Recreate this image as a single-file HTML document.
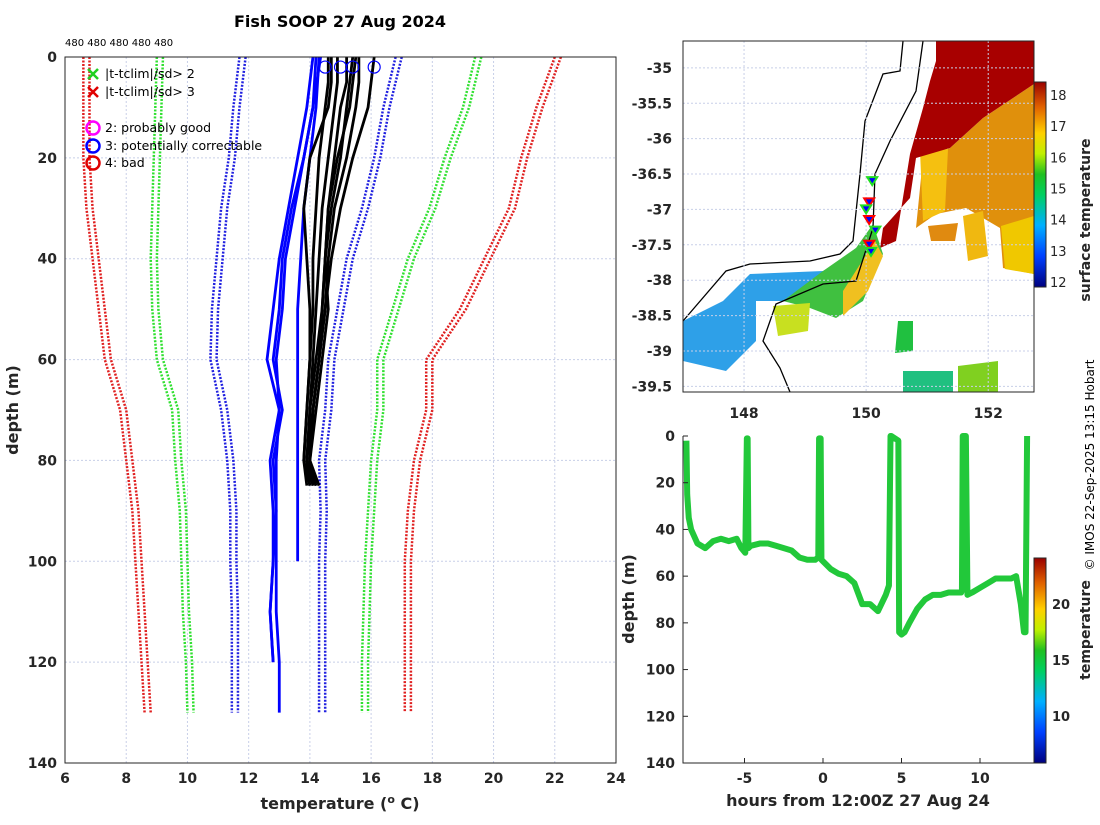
<!DOCTYPE html>
<html><head><meta charset="utf-8"><style>
body{margin:0;background:#fff;font-family:"Liberation Sans","DejaVu Sans",sans-serif}
svg text{font-family:"DejaVu Sans","Liberation Sans",sans-serif}
.tk{font-size:14px;font-weight:bold;fill:#262626}
.lg{font-size:12.5px;fill:#000}
</style></head><body>
<svg id="s" width="1100" height="820" viewBox="0 0 1100 820" xmlns="http://www.w3.org/2000/svg">
<defs>
<linearGradient id="jet1" x1="0" y1="1" x2="0" y2="0">
<stop offset="0" stop-color="#00007f"/><stop offset="0.15" stop-color="#0040ff"/><stop offset="0.3" stop-color="#00b0ff"/><stop offset="0.45" stop-color="#00d060"/><stop offset="0.55" stop-color="#20c020"/><stop offset="0.65" stop-color="#c0f000"/><stop offset="0.75" stop-color="#ffd000"/><stop offset="0.88" stop-color="#e06000"/><stop offset="1" stop-color="#9a0000"/>
</linearGradient>
</defs>
<g id="left"></g>
<g id="map"></g>
<g id="br"></g>
<text x="340" y="27" text-anchor="middle" style="font-size:16px;font-weight:bold">Fish SOOP 27 Aug 2024</text>
<text x="340" y="809" text-anchor="middle" class="tk" style="font-size:16px">temperature (<tspan dy="-6" font-size="11">o</tspan><tspan dy="6"> C)</tspan></text>
<text transform="translate(18,410) rotate(-90)" text-anchor="middle" class="tk" style="font-size:16px">depth (m)</text>
<text transform="translate(1094,465) rotate(-90)" text-anchor="middle" style="font-size:12px">© IMOS 22-Sep-2025 13:15 Hobart</text>
<text x="858" y="806" text-anchor="middle" class="tk" style="font-size:16px">hours from 12:00Z 27 Aug 24</text>
<text transform="translate(634,599) rotate(-90)" text-anchor="middle" class="tk" style="font-size:16px">depth (m)</text>
<text transform="translate(1090,220) rotate(-90)" text-anchor="middle" class="tk">surface temperature</text>
<text transform="translate(1090,630) rotate(-90)" text-anchor="middle" class="tk">temperature</text>
</svg>
<script>
const NS="http://www.w3.org/2000/svg";
function mk(p,t,a){const e=document.createElementNS(NS,t);for(const k in a)e.setAttribute(k,a[k]);p.appendChild(e);return e;}
// ---- left panel data
const depthGrid=[0,10,20,30,40,50,60,70,80,90,100,110,120,130];
const climRedL1=[6.6,6.6,6.6,6.7,6.9,7.1,7.3,7.8,8.0,8.2,8.3,8.4,8.5,8.6];
const climRedL2=[6.8,6.8,6.8,6.9,7.1,7.3,7.5,8.0,8.2,8.4,8.5,8.6,8.7,8.8];
const climGrnL1=[9.0,8.95,8.9,8.85,8.8,8.85,9.0,9.5,9.6,9.75,9.8,9.85,9.95,10.0];
const climGrnL2=[9.2,9.15,9.1,9.05,9.0,9.05,9.2,9.7,9.8,9.95,10.0,10.05,10.15,10.2];
const climBluL1=[11.7,11.5,11.35,11.1,10.95,10.8,10.75,11.1,11.3,11.4,11.4,11.45,11.45,11.45];
const climBluL2=[11.9,11.7,11.55,11.3,11.15,11.0,10.95,11.3,11.5,11.6,11.6,11.65,11.65,11.65];
const climBluR1=[16.8,16.4,16.1,15.7,15.2,14.9,14.6,14.5,14.3,14.35,14.3,14.3,14.3,14.3];
const climBluR2=[17.0,16.6,16.3,15.9,15.4,15.1,14.8,14.7,14.5,14.55,14.5,14.5,14.5,14.5];
const climGrnR1=[19.4,19.0,18.4,17.9,17.2,16.7,16.2,16.2,16.0,15.9,15.8,15.75,15.7,15.7];
const climGrnR2=[19.6,19.2,18.6,18.1,17.4,16.9,16.4,16.4,16.2,16.1,16.0,15.95,15.9,15.9];
const climRedR1=[22.0,21.4,20.9,20.5,19.7,18.9,17.8,17.8,17.4,17.2,17.1,17.1,17.1,17.1];
const climRedR2=[22.2,21.6,21.1,20.7,19.9,19.1,18.0,18.0,17.6,17.4,17.3,17.3,17.3,17.3];
const blkDepth=[0,5,10,20,30,40,50,60,70,80,85];
const blk=[
[14.6,14.6,14.5,14.3,14.2,14.1,14.1,14.0,13.9,13.8,13.9],
[14.9,14.9,14.8,14.6,14.4,14.3,14.2,14.1,14.0,13.9,14.0],
[15.2,15.2,15.0,14.8,14.6,14.5,14.4,14.2,14.0,13.9,14.1],
[15.4,15.3,15.2,15.0,14.7,14.5,14.4,14.3,14.1,14.0,14.2],
[15.6,15.6,15.5,15.2,14.8,14.6,14.5,14.3,14.1,14.0,14.3],
[16.1,16.0,15.9,15.4,15.0,14.7,14.5,14.3,14.1,13.9,14.2],
[14.7,14.7,14.6,14.0,13.8,13.9,14.0,14.0,13.9,13.8,14.0],
[15.5,15.4,15.3,14.9,14.6,14.5,14.6,14.4,14.2,14.0,14.1]];
const bluDepth=[0,10,20,30,40,50,60,70,80,90,100,110,120,130];
const blu=[
[14.1,13.9,13.6,13.3,13.0,12.8,12.6,13.0,12.7,12.8,12.8,12.7,12.8],
[14.2,14.1,13.8,13.5,13.2,13.1,12.9,13.0,12.9,12.9,12.9,12.9,13.0,13.0],
[14.3,14.2,14.0,13.8,13.7,13.6,13.6,13.6,13.6,13.6,13.6],
[14.35,14.1,13.8,13.4,13.1,13.0,12.8,13.1,12.8,12.9,12.8,12.7,12.8]];
const flagCircleTemps=[14.5,15.0,15.4,16.1];
const xTicks=[6,8,10,12,14,16,18,20,22,24];
const yTicks=[0,20,40,60,80,100,120,140];
const L={x0:65,x1:616,y0:57,y1:763,t0:6,t1:24,d0:0,d1:140};
const sx=t=>L.x0+(t-L.t0)/(L.t1-L.t0)*(L.x1-L.x0);
const sy=d=>L.y0+(d-L.d0)/(L.d1-L.d0)*(L.y1-L.y0);
const g=document.getElementById('left');
xTicks.forEach(t=>{let l=mk(g,'line',{x1:sx(t),x2:sx(t),y1:L.y0,y2:L.y1,stroke:'#c8cfe8','stroke-dasharray':'2,2'});


let tx=mk(g,'text',{x:sx(t),y:L.y1+20,'text-anchor':'middle',class:'tk'});tx.textContent=t;

});
yTicks.forEach(d=>{let l=mk(g,'line',{x1:L.x0,x2:L.x1,y1:sy(d),y2:sy(d),stroke:'#c8cfe8','stroke-dasharray':'2,2'});


let tx=mk(g,'text',{x:L.x0-8,y:sy(d)+5,'text-anchor':'end',class:'tk'});tx.textContent=d;

});
function line(arr,deps,col,w,dash,name){const pts=arr.map((t,i)=>sx(t)+','+sy(deps[i])).join(' ');
const p=mk(g,'polyline',{points:pts,fill:'none',stroke:col,'stroke-width':w,'stroke-linejoin':'round'});if(dash)p.setAttribute('stroke-dasharray',dash);

}
[[climRedL1,'#e02020'],[climRedL2,'#e02020'],[climGrnL1,'#30e030'],[climGrnL2,'#30e030'],[climBluL1,'#2020e0'],[climBluL2,'#2020e0'],[climBluR1,'#2020e0'],[climBluR2,'#2020e0'],[climGrnR1,'#30e030'],[climGrnR2,'#30e030'],[climRedR1,'#e02020'],[climRedR2,'#e02020']].forEach(c=>line(c[0],depthGrid,c[1],2.5,'2,1.5','climatology-line'));
blu.forEach(a=>line(a,bluDepth,'#0000ff',2.8,null,'flagged-profile'));
blk.forEach(a=>line(a,blkDepth,'#000',2.8,null,'good-profile'));
flagCircleTemps.forEach(t=>{const c=mk(g,'circle',{cx:sx(t),cy:sy(2),r:6,fill:'none',stroke:'#0000ff','stroke-width':1.2});

});
mk(g,'rect',{x:L.x0,y:L.y0,width:L.x1-L.x0,height:L.y1-L.y0,fill:'none',stroke:'#262626'});
const cnt=mk(g,'text',{x:65,y:46,style:'font-size:10px'});cnt.textContent='480 480 480 480 480';


// legend
const leg=[['x','#20d020','|t-tclim|/sd> 2',74],['x','#e00000','|t-tclim|/sd> 3',92],['o','#ff00ff','2: probably good',128],['o','#0000ff','3: potentially correctable',146],['o','#e00000','4: bad',163]];
leg.forEach(e=>{const gg=mk(g,'g',{});
if(e[0]=='x'){mk(gg,'path',{d:`M88 ${e[3]-5}l10 10M98 ${e[3]-5}l-10 10`,stroke:e[1],'stroke-width':2.5});}
else mk(gg,'circle',{cx:93,cy:e[3],r:6.5,fill:'none',stroke:e[1],'stroke-width':2.5});
const t=mk(gg,'text',{x:105,y:e[3]+4,class:'lg'});t.textContent=e[2];});
// ---- map
const M={x0:683,x1:1034,y0:41,y1:392,lon0:147.0,lon1:152.75,lat0:-34.62,lat1:-39.58};
const mx=l=>M.x0+(l-M.lon0)/(M.lon1-M.lon0)*(M.x1-M.x0);
const my=l=>M.y0+(l-M.lat0)/(M.lat1-M.lat0)*(M.y1-M.y0);
const mg=document.getElementById('map');
mk(mg,'rect',{x:M.x0,y:M.y0,width:351,height:351,fill:'#fff'});
function poly(pts,col,name){const p=mk(mg,'polygon',{points:pts.map(q=>(M.x0+q[0])+','+(M.y0+q[1])).join(' '),fill:col});}
poly([[300,77],[351,43],[351,233],[320,227],[317,187],[283,167],[253,173],[233,187],[240,117],[267,107]],'#e0900c','sst-warm-region');
poly([[237,110],[265,108],[262,170],[240,180]],'#f5c010','sst-yellow-patch');
poly([[318,185],[351,175],[351,233],[322,228]],'#f0c800','sst-yellow-patch');
poly([[280,175],[300,170],[305,215],[285,220]],'#f0b810','sst-yellow-patch');
poly([[245,185],[275,182],[272,200],[248,200]],'#e08a10','sst-orange-patch');
poly([[253,0],[351,0],[351,43],[300,77],[267,107],[233,117],[227,157],[200,187],[197,207],[213,200],[227,113],[240,67],[247,40],[253,20]],'#a80000','sst-hot-region');
poly([[0,280],[40,260],[67,233],[140,230],[157,220],[173,207],[180,213],[133,260],[73,260],[73,300],[43,330],[0,320]],'#2ea0e8','sst-cool-region');
poly([[140,230],[173,207],[190,183],[200,213],[180,260],[153,277],[127,267],[100,260]],'#40c040','sst-shelf-band');
poly([[160,250],[192,200],[200,215],[185,250],[160,275]],'#f0c020','sst-shelf-yellow');
poly([[90,265],[127,262],[125,290],[95,295]],'#c8e020','sst-green-patch');
poly([[215,280],[230,280],[230,310],[212,312]],'#20c040','sst-green-patch');
poly([[220,330],[270,330],[270,351],[220,351]],'#20c080','sst-green-patch');
poly([[275,325],[315,320],[315,351],[275,351]],'#80d020','sst-green-patch');
mk(mg,'polyline',{points:[[0,280],[43,230],[67,223],[127,220],[157,213],[170,200],[177,133],[182,80],[200,33],[217,30],[220,0]].map(q=>(M.x0+q[0])+','+(M.y0+q[1])).join(' '),fill:'none',stroke:'#000','stroke-width':1.3,});
mk(mg,'polyline',{points:[[240,0],[233,50],[207,100],[192,133],[190,187],[173,240],[140,243],[93,263],[80,300],[97,327],[107,351]].map(q=>(M.x0+q[0])+','+(M.y0+q[1])).join(' '),fill:'none',stroke:'#000','stroke-width':1.3,});
const lonTicks=[148,150,152];const latTicks=[-35,-35.5,-36,-36.5,-37,-37.5,-38,-38.5,-39,-39.5];
lonTicks.forEach(l=>{mk(mg,'line',{x1:mx(l),x2:mx(l),y1:M.y0,y2:M.y1,stroke:'#c8cfe8','stroke-dasharray':'2,2'});
const t=mk(mg,'text',{x:mx(l),y:418,'text-anchor':'middle',class:'tk'});t.textContent=l;

});
latTicks.forEach(l=>{mk(mg,'line',{x1:M.x0,x2:M.x1,y1:my(l),y2:my(l),stroke:'#c8cfe8','stroke-dasharray':'2,2'});
const t=mk(mg,'text',{x:672,y:my(l)+5,'text-anchor':'end',class:'tk'});t.textContent=l;

});
const shipLon=[150.1,150.05,150.0,150.05,150.15,150.05,150.08];
const shipLat=[-36.6,-36.9,-37.0,-37.15,-37.3,-37.5,-37.6];
shipLon.forEach((l,i)=>{const p=mk(mg,'path',{d:`M${mx(l)-5} ${my(shipLat[i])-4}h10l-5 8z`,fill:'#0000ff',stroke:i%2?'#ff0000':'#20e020','stroke-width':2});

});
mk(mg,'rect',{x:M.x0,y:M.y0,width:351,height:351,fill:'none',stroke:'#262626'});
const cb1=mk(mg,'rect',{x:1034,y:82,width:12,height:205,fill:'url(#jet1)',stroke:'#262626'});


const cb1Ticks=[12,13,14,15,16,17,18];
cb1Ticks.forEach(v=>{const y=282-(v-12)*(282-95)/6;
const t=mk(mg,'text',{x:1050,y:y+5,class:'tk',style:'font-size:13px;font-weight:normal'});t.textContent=v;

});
// ---- bottom right
const hours=[-8.7,-8.65,-8.6,-8.55,-8.4,-8.0,-7.5,-7.0,-6.5,-6.0,-5.5,-5.2,-4.95,-4.85,-4.8,-4.75,-4.6,-4.0,-3.5,-3.0,-2.5,-2.0,-1.5,-1.0,-0.5,-0.3,-0.25,-0.15,-0.1,0.5,1.0,1.5,2.0,2.5,3.0,3.5,4.0,4.2,4.3,4.35,4.8,4.85,5.0,5.2,5.5,6.0,6.5,7.0,7.5,8.0,8.8,8.85,8.9,9.1,9.2,9.5,10.0,10.5,11.0,11.5,12.0,12.3,12.6,12.8,12.9,13.0];
const bDepth=[2,25,30,35,40,46,48,45,44,45,44,48,50,1,1,48,47,46,46,47,48,49,52,53,53,52,1,1,53,57,59,60,63,72,72,75,68,64,0,0,2,84,85,84,80,74,70,68,68,67,67,66,0,0,68,67,65,63,61,61,61,60,72,84,84,0];
const hTicks=[-5,0,5,10];const dTicks=[0,20,40,60,80,100,120,140];
const B={x0:683,x1:1034,y0:436,y1:763};
const bx=h=>823+h*(980-823)/10;
const by=d=>B.y0+d/140*(B.y1-B.y0);
const bg=document.getElementById('br');
const bl=mk(bg,'polyline',{points:hours.map((h,i)=>bx(h)+','+by(bDepth[i])).join(' '),fill:'none',stroke:'#22c83a','stroke-width':6,'stroke-linejoin':'round'});


mk(bg,'path',{d:`M${B.x0} ${B.y0}V${B.y1}H${B.x1}`,fill:'none',stroke:'#262626'});
hTicks.forEach(h=>{mk(bg,'line',{x1:bx(h),x2:bx(h),y1:B.y1,y2:B.y1-5,stroke:'#262626'});
const t=mk(bg,'text',{x:bx(h),y:783,'text-anchor':'middle',class:'tk'});t.textContent=h;

});
dTicks.forEach(d=>{mk(bg,'line',{x1:B.x0,x2:B.x0+5,y1:by(d),y2:by(d),stroke:'#262626'});
const t=mk(bg,'text',{x:675,y:by(d)+5,'text-anchor':'end',class:'tk'});t.textContent=d;

});
const cb2=mk(bg,'rect',{x:1034,y:558,width:12,height:205,fill:'url(#jet1)',stroke:'#262626'});


const cb2Ticks=[10,15,20];
cb2Ticks.forEach(v=>{const y=716-(v-10)*(716-604)/10;
const t=mk(bg,'text',{x:1052,y:y+5,class:'tk',style:'font-size:13px'});t.textContent=v;

});
</script>
</body></html>
